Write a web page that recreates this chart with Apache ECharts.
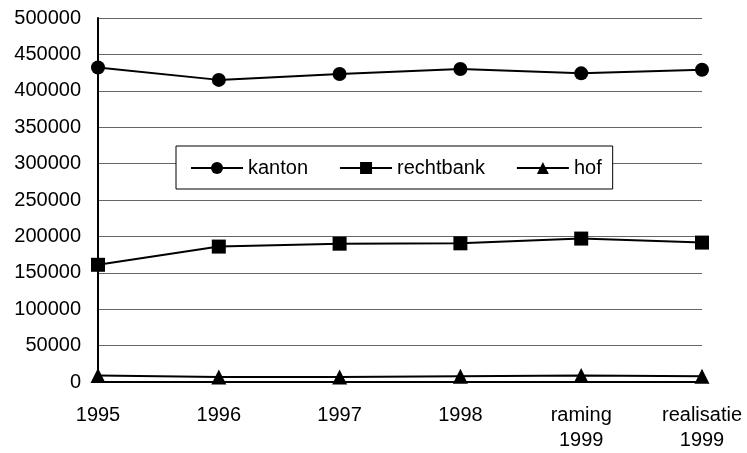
<!DOCTYPE html>
<html>
<head>
<meta charset="utf-8">
<script src="https://cdn.jsdelivr.net/npm/echarts@6/dist/echarts.min.js"></script>
<style>
  html, body { margin: 0; padding: 0; background: #fff; }
  #chart { width: 747px; height: 453px; }
</style>
</head>
<body>
<div id="chart"></div>
<script>
var categories = ['1995', '1996', '1997', '1998', 'raming\n1999', 'realisatie\n1999'];
var kanton = [432000, 415000, 423000, 430000, 424000, 429000];
var rechtbank = [161000, 186000, 190000, 190500, 197000, 191500];
var hof = [9000, 7000, 7000, 8000, 9000, 8000];

var myChart = echarts.init(document.getElementById('chart'));

function serie(name, data, symbol, size) {
  return {
    name: name,
    type: 'line',
    data: data,
    symbol: symbol,
    symbolSize: size,
    showAllSymbol: true,
    lineStyle: { color: '#000', width: 2 },
    itemStyle: { color: '#000' },
    emphasis: { disabled: true }
  };
}

var option = {
  animation: false,
  backgroundColor: '#fff',
  textStyle: { fontFamily: 'Liberation Sans, Arial, sans-serif' },
  grid: { left: 98, right: 45, top: 18, bottom: 70 },
  legend: {
    left: 176,
    top: 146,
    padding: [12, 11, 11, 14],
    itemGap: 31,
    itemWidth: 52,
    itemHeight: 15,
    backgroundColor: '#fff',
    borderColor: '#000',
    borderWidth: 1,
    textStyle: { fontSize: 20, color: '#000' },
    data: ['kanton', 'rechtbank', 'hof']
  },
  xAxis: {
    type: 'category',
    data: categories,
    boundaryGap: false,
    axisLine: { lineStyle: { color: '#000', width: 2 } },
    axisTick: { show: false },
    axisLabel: { color: '#000', fontSize: 20, margin: 21, lineHeight: 25 }
  },
  yAxis: {
    type: 'value',
    min: 0,
    max: 500000,
    interval: 50000,
    axisLine: { show: true, lineStyle: { color: '#000', width: 2 } },
    axisTick: { show: false },
    axisLabel: {
      color: '#000', fontSize: 20, margin: 17,
      formatter: function (v) { return String(v); }
    },
    splitLine: { lineStyle: { color: '#666', width: 1 } }
  },
  series: [
    serie('kanton', kanton, 'circle', 14),
    serie('rechtbank', rechtbank, 'rect', 14),
    serie('hof', hof, 'triangle', 15)
  ]
};

myChart.setOption(option);
</script>
</body>
</html>
